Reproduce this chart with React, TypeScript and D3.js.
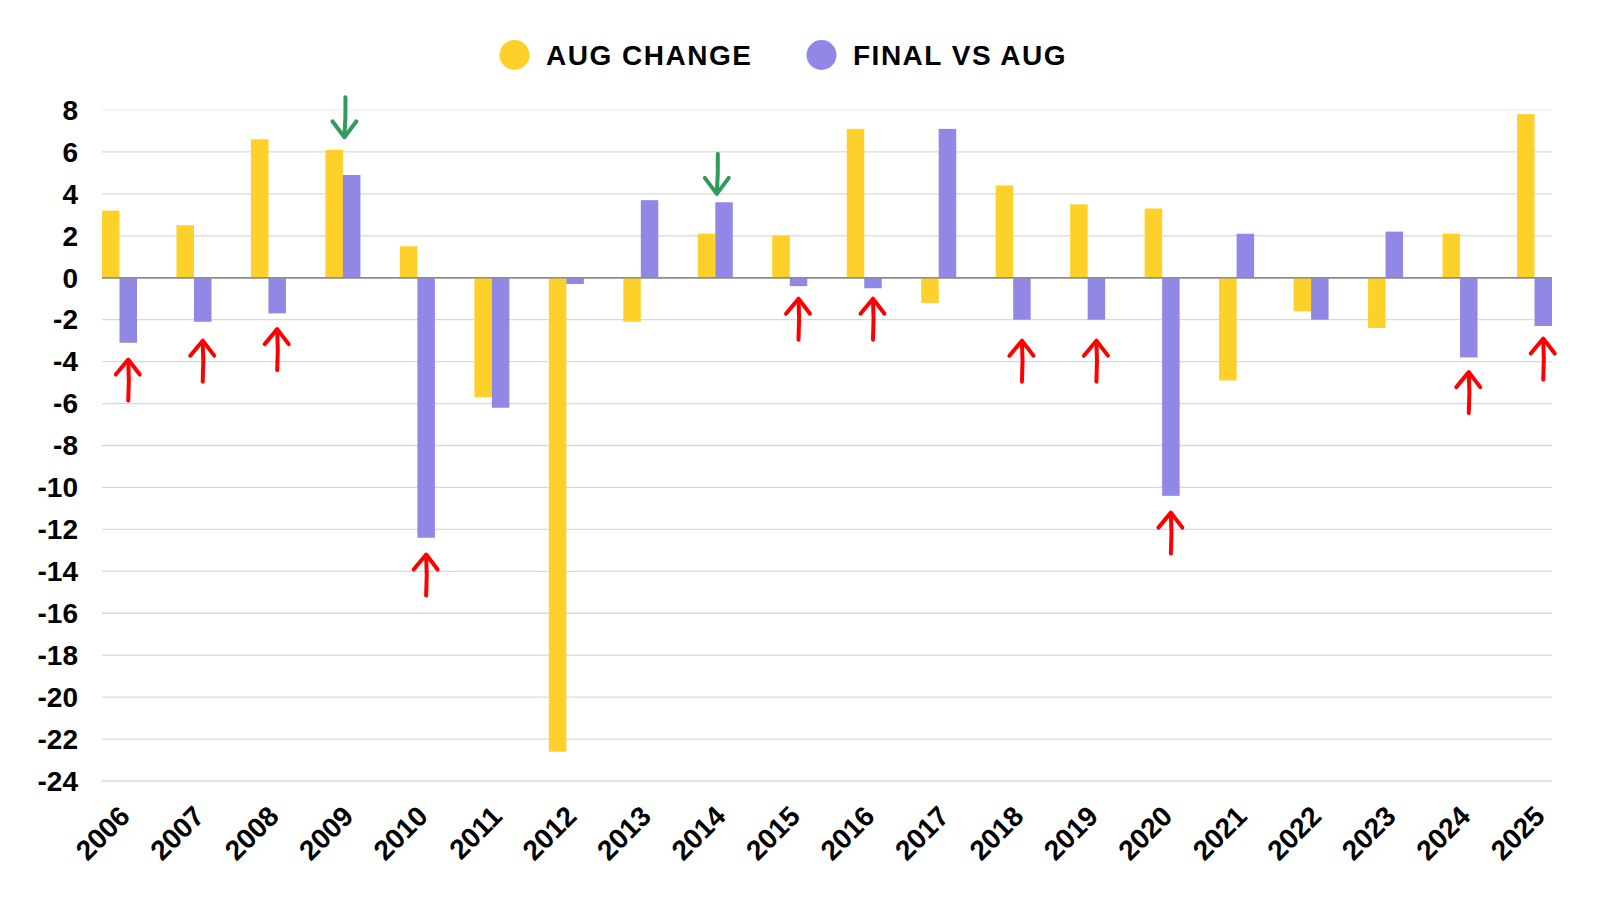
import React from "react";
import * as d3 from "d3";

const years = ["2006","2007","2008","2009","2010","2011","2012","2013","2014","2015","2016","2017","2018","2019","2020","2021","2022","2023","2024","2025"];
const augChange = [3.2, 2.5, 6.6, 6.1, 1.5, -5.7, -22.6, -2.1, 2.1, 2.0, 7.1, -1.2, 4.4, 3.5, 3.3, -4.9, -1.6, -2.4, 2.1, 7.8];
const finalVsAug = [-3.1, -2.1, -1.7, 4.9, -12.4, -6.2, -0.3, 3.7, 3.6, -0.4, -0.5, 7.1, -2.0, -2.0, -10.4, 2.1, -2.0, 2.2, -3.8, -2.3];
const seriesNames = ["AUG CHANGE", "FINAL VS AUG"];
const yTicks = d3.range(-24, 9, 2);

// annotation arrows: year and the value the arrow tip points at
const upArrowYears = ["2006","2007","2008","2010","2015","2016","2018","2019","2020","2024","2025"];
const upArrowTips = [-3.9, -3.0, -2.45, -13.2, -1.0, -1.0, -3.0, -3.0, -11.2, -4.5, -2.9];
const downArrowYears = ["2009","2014"];
const downArrowTips = [6.7, 4.0];

const COLORS = ["#fdd02a", "#9188e6"];
const FONT = "'Liberation Sans', Arial, Helvetica, sans-serif";

export default function App() {
  const W = 1600, H = 900;
  const left = 102, right = 1552, top = 110, bottom = 781;
  const x = d3.scaleBand<string>().domain(years).range([left, right]).paddingInner(0.53).paddingOuter(0);
  const xs = d3.scaleBand<string>().domain(["a", "f"]).range([0, x.bandwidth()]).padding(0);
  const y = d3.scaleLinear().domain([-24, 8]).range([bottom, top]);
  const y0 = y(0);

  const bars: React.ReactNode[] = [];
  years.forEach((yr, i) => {
    [augChange[i], finalVsAug[i]].forEach((v, s) => {
      const bx = (x(yr) as number) + (xs(s === 0 ? "a" : "f") as number);
      const yy = y(v);
      bars.push(
        <rect key={yr + s} x={bx} y={Math.min(yy, y0)} width={xs.bandwidth()} height={Math.abs(yy - y0)} fill={COLORS[s]} />
      );
    });
  });

  const arrowLen = 41;
  const upArrows = upArrowYears.map((yr, i) => {
    const cx = (x(yr) as number) + (xs("f") as number) + xs.bandwidth() / 2;
    const t = y(upArrowTips[i]);
    return (
      <g key={"u" + yr} stroke="#ff0000" strokeWidth={4} fill="none" strokeLinecap="round" strokeLinejoin="round">
        <path d={`M${cx},${t + arrowLen} Q${cx + 1.2},${t + arrowLen / 2} ${cx},${t + 1}`} />
        <path d={`M${cx - 12.5},${t + 15} L${cx},${t} L${cx + 11.5},${t + 15}`} />
      </g>
    );
  });
  const downArrows = downArrowYears.map((yr, i) => {
    const cx = (x(yr) as number) + x.bandwidth() / 2 + 1.5;
    const t = y(downArrowTips[i]);
    return (
      <g key={"d" + yr} stroke="#2f9b5c" strokeWidth={4} fill="none" strokeLinecap="round" strokeLinejoin="round">
        <path d={`M${cx + 1},${t - 40} Q${cx + 1.5},${t - 20} ${cx},${t - 1}`} />
        <path d={`M${cx - 12},${t - 16} L${cx},${t} L${cx + 12},${t - 16}`} />
      </g>
    );
  });

  const legendItems = [
    { cx: 514.5, tx: 546 },
    { cx: 821.5, tx: 853 },
  ];

  return (
    <svg width={W} height={H} style={{ position: "absolute", left: 0, top: 0, background: "#fff" }} fontFamily={FONT}>
      <rect x={0} y={0} width={W} height={H} fill="#fff" />
      {yTicks.map((t) => (
        <line key={"g" + t} x1={left} x2={right} y1={y(t)} y2={y(t)}
          stroke={t === 8 ? "#f2f2f2" : t === 0 ? "#8c8c8c" : "#d9d9d9"} strokeWidth={t === 0 ? 1.5 : 1.3} />
      ))}
      {bars}
      <line x1={left} x2={right} y1={y0} y2={y0} stroke="#8c8c8c" strokeWidth={1.3} />
      {yTicks.map((t) => (
        <text key={"yt" + t} x={78} y={y(t)} dy="0.35em" textAnchor="end" fontSize={28} fontWeight="bold" fill="#000">
          {t}
        </text>
      ))}
      {years.map((yr) => {
        const cx = (x(yr) as number) + x.bandwidth() / 2 + 12;
        return (
          <text key={"xt" + yr} transform={`translate(${cx},818) rotate(-45)`} textAnchor="end" fontSize={28} fontWeight="bold" fill="#000">
            {yr}
          </text>
        );
      })}
      {upArrows}
      {downArrows}
      {seriesNames.map((n, i) => (
        <g key={n}>
          <circle cx={legendItems[i].cx} cy={55} r={15} fill={COLORS[i]} />
          <text x={legendItems[i].tx} y={55} dy="0.35em" fontSize={28} fontWeight="bold" letterSpacing={1.5} fill="#000">
            {n}
          </text>
        </g>
      ))}
    </svg>
  );
}
